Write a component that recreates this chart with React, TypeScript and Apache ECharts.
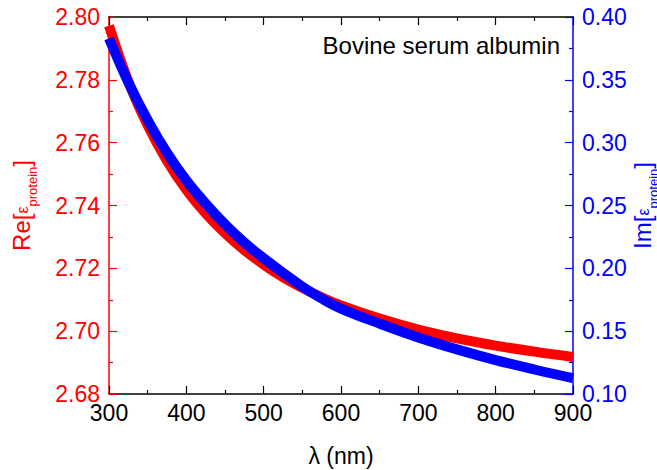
import React, { useEffect, useRef } from "react";
import * as echarts from "echarts";

const wavelengths = [300, 325, 350, 375, 400, 425, 450, 475, 500, 525, 550, 575, 600, 650, 700, 750, 800, 850, 900];
const reValues = [2.7972, 2.7795, 2.7655, 2.7542, 2.745, 2.7375, 2.7312, 2.7258, 2.7212, 2.7172, 2.7138, 2.7108, 2.7082, 2.704, 2.7005, 2.6977, 2.6954, 2.6935, 2.6918];
const imValues = [0.383, 0.348, 0.318, 0.292, 0.27, 0.2515, 0.235, 0.2205, 0.208, 0.1965, 0.1855, 0.176, 0.168, 0.156, 0.145, 0.1355, 0.127, 0.1195, 0.1126];
const xTicks = { min: 300, max: 900, interval: 100 };
const reTicks = { min: 2.68, max: 2.8, interval: 0.02 };
const imTicks = { min: 0.1, max: 0.4, interval: 0.05 };
const title = "Bovine serum albumin";

const FONT = "'Liberation Sans', Arial, Helvetica, sans-serif";
const RED = "#ff0000";
const BLUE = "#0000ff";

function richFor(color: string) {
  return {
    m: { fontSize: 24, fontFamily: FONT, color, verticalAlign: "bottom", padding: [0, 0, 6, 0] },
    e: { fontSize: 16, fontFamily: FONT, color, verticalAlign: "bottom", padding: [0, 0, 9, 0] },
    s: { fontSize: 13, fontFamily: FONT, color, verticalAlign: "bottom", padding: [0, 0, 0, 0] },
  };
}

export default function App() {
  const ref = useRef<HTMLDivElement>(null);
  useEffect(() => {
    if (!ref.current) return;
    const chart = echarts.init(ref.current, null, { renderer: "svg" });
    const xCommon = {
      type: "value",
      min: xTicks.min,
      max: xTicks.max,
      interval: xTicks.interval,
      splitLine: { show: false },
      axisLine: { show: true, onZero: false, lineStyle: { color: "#000", width: 1.5 } },
      axisTick: { show: true, inside: true, length: 8, lineStyle: { color: "#000", width: 1.2 } },
      minorTick: { show: true, splitNumber: 2, length: 4, lineStyle: { color: "#000", width: 1.2 } },
    };
    chart.setOption({
      animation: false,
      backgroundColor: "#fff",
      textStyle: { fontFamily: FONT },
      grid: { left: 109, right: 84, top: 17, bottom: 76, containLabel: false, outerBoundsMode: "none" },
      xAxis: [
        {
          ...xCommon,
          position: "bottom",
          axisLabel: { color: "#000", fontSize: 23, fontFamily: FONT, margin: 7 },
          name: "λ (nm)",
          nameLocation: "middle",
          nameGap: 50,
          nameMoveOverlap: false,
          nameTextStyle: { color: "#000", fontSize: 23, fontFamily: FONT },
        },
        {
          ...xCommon,
          position: "top",
          axisLabel: { show: false },
        },
      ],
      yAxis: [
        {
          type: "value",
          position: "left",
          min: reTicks.min,
          max: reTicks.max,
          interval: reTicks.interval,
          splitLine: { show: false },
          axisLine: { show: true, onZero: false, lineStyle: { color: RED, width: 1.5 } },
          axisTick: { show: true, inside: true, length: 8, lineStyle: { color: RED, width: 1.2 } },
          minorTick: { show: true, splitNumber: 2, length: 4, lineStyle: { color: RED, width: 1.2 } },
          axisLabel: {
            color: RED,
            fontSize: 23,
            fontFamily: FONT,
            margin: 9,
            formatter: (v: number) => v.toFixed(2),
          },
          name: "{m|Re[}{e|ε}{s|protein}{m|]}",
          nameLocation: "middle",
          nameGap: 70,
          nameRotate: 90,
          nameMoveOverlap: false,
          nameTextStyle: { color: RED, fontFamily: FONT, rich: richFor(RED) },
        },
        {
          type: "value",
          position: "right",
          min: imTicks.min,
          max: imTicks.max,
          interval: imTicks.interval,
          splitLine: { show: false },
          axisLine: { show: true, onZero: false, lineStyle: { color: BLUE, width: 1.5 } },
          axisTick: { show: true, inside: true, length: 8, lineStyle: { color: BLUE, width: 1.2 } },
          minorTick: { show: true, splitNumber: 2, length: 4, lineStyle: { color: BLUE, width: 1.2 } },
          axisLabel: {
            color: BLUE,
            fontSize: 23,
            fontFamily: FONT,
            margin: 9,
            formatter: (v: number) => v.toFixed(2),
          },
          name: "{m|Im[}{e|ε}{s|protein}{m|]}",
          nameLocation: "middle",
          nameGap: 57,
          nameRotate: 90,
          nameMoveOverlap: false,
          nameTextStyle: { color: BLUE, fontFamily: FONT, rich: richFor(BLUE) },
        },
      ],
      graphic: [
        {
          type: "text",
          right: 97,
          top: 33,
          style: { text: title, fill: "#000", fontSize: 24, fontFamily: FONT },
        },
      ],
      series: [
        {
          type: "line",
          name: "Re",
          xAxisIndex: 0,
          yAxisIndex: 0,
          data: wavelengths.map((w, i) => [w, reValues[i]]),
          showSymbol: false,
          smooth: 0.4,
          lineStyle: { color: RED, width: 10 },
          itemStyle: { color: RED },
          z: 2,
        },
        {
          type: "line",
          name: "Im",
          xAxisIndex: 0,
          yAxisIndex: 1,
          data: wavelengths.map((w, i) => [w, imValues[i]]),
          showSymbol: false,
          smooth: 0.4,
          lineStyle: { color: BLUE, width: 10 },
          itemStyle: { color: BLUE },
          z: 3,
        },
      ],
    });
    return () => chart.dispose();
  }, []);
  return (
    <div
      ref={ref}
      style={{ position: "absolute", left: 0, top: 0, width: 657, height: 470 }}
    />
  );
}
